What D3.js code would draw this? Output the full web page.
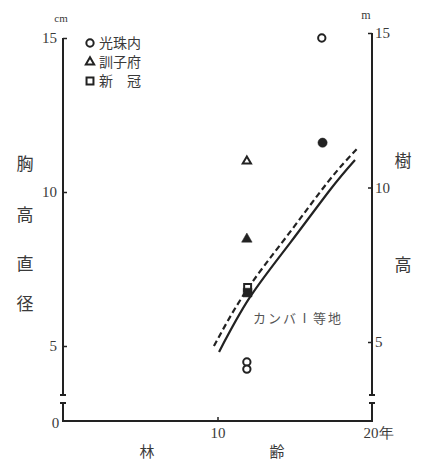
<!DOCTYPE html>
<html>
<head>
<meta charset="utf-8">
<script src="https://cdn.jsdelivr.net/npm/d3@7"></script>
<style>
body { margin: 0; background: #fff; }
</style>
</head>
<body>
<script>
var width = 421, height = 461;

// ---- data ----
var sites = ['光珠内', '訓子府', '新\u3000冠'];
var pointSite = ['光珠内', '光珠内', '光珠内', '光珠内', '訓子府', '訓子府', '新\u3000冠', '新\u3000冠'];
var pointAge = [16.75, 16.8, 11.9, 11.9, 11.9, 11.9, 11.95, 11.95];
var pointValue = [15.0, 11.45, 4.48, 4.25, 11.0, 8.33, 6.9, 6.6];
var pointMeasure = ['diameter', 'height', 'diameter', 'diameter', 'diameter', 'height', 'diameter', 'height'];

// カンバI等地 curves (height, m)
var solidAges = [10.1, 12.1, 14.69, 17.28, 18.9];
var solidHeights = [4.68, 6.45, 8.2, 9.92, 10.89];
var dashedAges = [9.77, 11.84, 14.5, 17.15, 19.03];
var dashedHeights = [4.87, 6.64, 8.43, 10.18, 11.25];

var xTicks = [0, 10, 20];
var yTicks = [5, 10, 15];
var leftTitle = ['胸', '高', '直', '径'];
var rightTitle = ['樹', '高'];

// ---- layout ----
var axisBottomY = 421, breakTop = 395, breakBottom = 403;
var ink = '#222', textInk = '#3a3a3a';
var numFont = '"Liberation Serif", "DejaVu Serif", serif';
var cjkFont = '"Noto Sans CJK JP", sans-serif';

var svg = d3.select('body').append('svg')
    .attr('width', width).attr('height', height)
    .style('background', '#fff');

var x = d3.scaleLinear().domain([0, 20]).range([63, 372]);
var yLeft = d3.scaleLinear().domain([5, 15]).range([346, 38]);   // cm
var yRight = d3.scaleLinear().domain([5, 15]).range([342, 33]);  // m

// axes
var leftAxis = d3.axisLeft(yLeft).tickValues(yTicks).tickSize(-4).tickPadding(6);
var rightAxis = d3.axisRight(yRight).tickValues(yTicks).tickSize(-4).tickPadding(3);
var bottomAxis = d3.axisBottom(x).tickValues(xTicks).tickSize(-4).tickPadding(6)
    .tickFormat(function (d) { return d === 20 ? '20年' : d; });

var gl = svg.append('g').attr('transform', 'translate(' + x(0) + ',0)').call(leftAxis);
var gr = svg.append('g').attr('transform', 'translate(' + x(20) + ',0)').call(rightAxis);
var gb = svg.append('g').attr('transform', 'translate(0,' + axisBottomY + ')').call(bottomAxis);

[gl, gr, gb].forEach(function (g) {
  g.select('.domain').remove();
  g.selectAll('.tick line').attr('stroke', ink).attr('stroke-width', 1.5);
  g.selectAll('.tick text').attr('fill', textInk)
    .style('font-family', numFont).style('font-size', '15px');
});
gb.selectAll('.tick').filter(function (d) { return d === 0 || d === 20; }).select('line').remove();
gb.selectAll('.tick').filter(function (d) { return d === 0; }).select('text')
    .attr('x', -8).attr('y', -4);
gb.selectAll('.tick').filter(function (d) { return d === 20; }).select('text')
    .attr('text-anchor', 'start').attr('x', -9);

// axis lines with breaks
function vAxisLine(px, top) {
  var g = svg.append('g').attr('stroke', ink).attr('stroke-width', 2).attr('fill', 'none');
  g.append('line').attr('x1', px).attr('x2', px).attr('y1', top).attr('y2', breakTop);
  g.append('line').attr('x1', px - 3).attr('x2', px + 3).attr('y1', breakTop).attr('y2', breakTop);
  g.append('line').attr('x1', px - 3).attr('x2', px + 3).attr('y1', breakBottom).attr('y2', breakBottom);
  g.append('line').attr('x1', px).attr('x2', px).attr('y1', breakBottom).attr('y2', axisBottomY + 1);
}
vAxisLine(x(0), yLeft(15));
vAxisLine(x(20), yRight(15));
svg.append('line').attr('x1', x(0)).attr('x2', x(20)).attr('y1', axisBottomY).attr('y2', axisBottomY)
    .attr('stroke', ink).attr('stroke-width', 2);

// units
svg.append('text').attr('x', x(0) - 2).attr('y', 22).attr('text-anchor', 'middle')
    .attr('fill', textInk).style('font-family', numFont).style('font-size', '11px').text('cm');
svg.append('text').attr('x', x(20) - 6).attr('y', 19).attr('text-anchor', 'middle')
    .attr('fill', textInk).style('font-family', numFont).style('font-size', '12px').text('m');

// axis titles
var leftTitleY = [162, 213, 262, 302];
svg.selectAll('.lt').data(leftTitle).enter().append('text')
    .attr('x', 25).attr('y', function (d, i) { return leftTitleY[i]; })
    .attr('text-anchor', 'middle').attr('dominant-baseline', 'central')
    .attr('fill', textInk).style('font-family', cjkFont).style('font-size', '17px')
    .text(function (d) { return d; });
var rightTitleY = [159, 263];
svg.selectAll('.rt').data(rightTitle).enter().append('text')
    .attr('x', 403).attr('y', function (d, i) { return rightTitleY[i]; })
    .attr('text-anchor', 'middle').attr('dominant-baseline', 'central')
    .attr('fill', textInk).style('font-family', cjkFont).style('font-size', '17px')
    .text(function (d) { return d; });
[['林', 147], ['齢', 277]].forEach(function (t) {
  svg.append('text').attr('x', t[1]).attr('y', 450)
      .attr('text-anchor', 'middle').attr('dominant-baseline', 'central')
      .attr('fill', textInk).style('font-family', cjkFont).style('font-size', '15px').text(t[0]);
});

// curves
var solidLine = d3.line().curve(d3.curveNatural)
    .x(function (d, i) { return x(solidAges[i]); })
    .y(function (d) { return yRight(d); });
var dashedLine = d3.line().curve(d3.curveNatural)
    .x(function (d, i) { return x(dashedAges[i]); })
    .y(function (d) { return yRight(d); });
svg.append('path').datum(solidHeights).attr('d', solidLine)
    .attr('fill', 'none').attr('stroke', ink).attr('stroke-width', 2.2);
svg.append('path').datum(dashedHeights).attr('d', dashedLine)
    .attr('fill', 'none').attr('stroke', ink).attr('stroke-width', 2.2)
    .attr('stroke-dasharray', '6,3.5');

svg.append('text').attr('x', 253).attr('y', 323)
    .attr('fill', '#555').style('font-family', cjkFont).style('font-size', '13px')
    .style('letter-spacing', '2px').text('カンバⅠ等地');

// symbols
var siteShape = d3.scaleOrdinal().domain(sites)
    .range([d3.symbolCircle, d3.symbolTriangle, d3.symbolSquare]);
var siteSize = d3.scaleOrdinal().domain(sites).range([42, 30, 48]);

var pts = pointSite.map(function (s, i) {
  return { site: s, age: pointAge[i], value: pointValue[i], measure: pointMeasure[i] };
});
svg.selectAll('.pt').data(pts).enter().append('path')
    .attr('transform', function (d) {
      var yy = d.measure === 'diameter' ? yLeft(d.value) : yRight(d.value);
      return 'translate(' + x(d.age) + ',' + yy + ')';
    })
    .attr('d', function (d) {
      var sz = siteSize(d.site) * (d.measure === 'height' ? 1.6 : 1);
      return d3.symbol().type(siteShape(d.site)).size(sz)();
    })
    .attr('fill', function (d) { return d.measure === 'height' ? ink : '#fff'; })
    .attr('stroke', ink)
    .attr('stroke-width', function (d) { return d.measure === 'height' ? 0.5 : 2; });

// legend
var legend = svg.selectAll('.lg').data(sites).enter().append('g')
    .attr('transform', function (d, i) { return 'translate(90,' + (43 + i * 19) + ')'; });
legend.append('path')
    .attr('d', function (d) { return d3.symbol().type(siteShape(d)).size(siteSize(d))(); })
    .attr('fill', '#fff').attr('stroke', ink).attr('stroke-width', 2);
legend.append('text').attr('x', 9).attr('dy', '0.35em')
    .attr('fill', textInk).style('font-family', cjkFont).style('font-size', '14px')
    .text(function (d) { return d; });
</script>
</body>
</html>
